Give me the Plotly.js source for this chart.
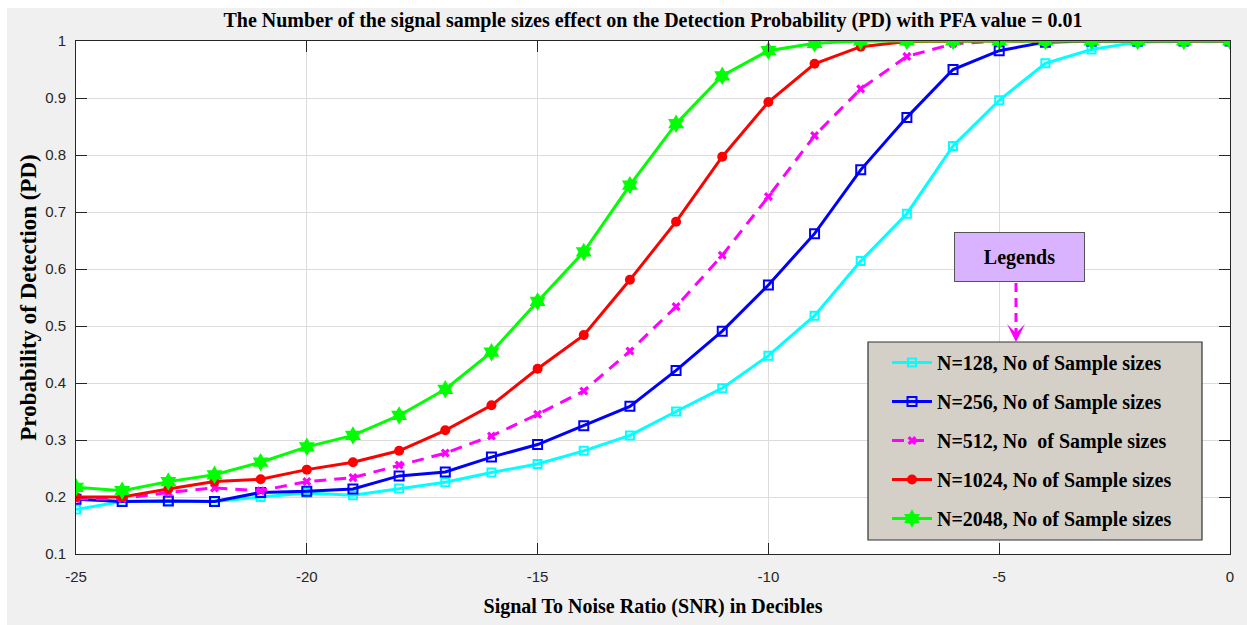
<!DOCTYPE html>
<html>
<head>
<meta charset="utf-8">
<script src="https://cdn.plot.ly/plotly-3.0.1.min.js"></script>
<style>
  html, body { margin: 0; padding: 0; background: #ffffff; }
  #chart { position: absolute; left: 7px; top: 8px; width: 1240px; height: 617px; }
</style>
</head>
<body>
<div id="chart"></div>
<script>
// SNR sweep in dB
const snr = [-25, -24, -23, -22, -21, -20, -19, -18, -17, -16, -15, -14, -13,
             -12, -11, -10, -9, -8, -7, -6, -5, -4, -3, -2, -1, 0];

// Detection probability for each number of samples
const pdN128 = [0.178, 0.192, 0.193, 0.192, 0.200, 0.207, 0.203, 0.215, 0.226, 0.243, 0.258, 0.281, 0.308,
                0.350, 0.391, 0.448, 0.518, 0.614, 0.697, 0.816, 0.896, 0.961, 0.985, 0.998, 1.0, 1.0];
const pdN256 = [0.196, 0.192, 0.193, 0.192, 0.208, 0.210, 0.214, 0.237, 0.244, 0.270, 0.292, 0.325, 0.359,
                0.422, 0.491, 0.572, 0.662, 0.774, 0.866, 0.950, 0.983, 0.998, 1.0, 1.0, 1.0, 1.0];
const pdN512 = [0.197, 0.197, 0.208, 0.216, 0.211, 0.227, 0.234, 0.256, 0.277, 0.307, 0.345, 0.386, 0.456,
                0.534, 0.624, 0.727, 0.834, 0.916, 0.973, 0.995, 1.0, 1.0, 1.0, 1.0, 1.0, 1.0];
const pdN1024 = [0.200, 0.200, 0.214, 0.227, 0.231, 0.248, 0.261, 0.281, 0.317, 0.361, 0.425, 0.484, 0.581,
                 0.683, 0.797, 0.893, 0.960, 0.990, 0.999, 1.0, 1.0, 1.0, 1.0, 1.0, 1.0, 1.0];
const pdN2048 = [0.217, 0.211, 0.227, 0.239, 0.261, 0.288, 0.308, 0.343, 0.389, 0.454, 0.543, 0.630, 0.747,
                 0.855, 0.939, 0.983, 0.996, 1.0, 1.0, 1.0, 1.0, 1.0, 1.0, 1.0, 1.0, 1.0];

const seriesNames = [
  'N=128, No of Sample sizes',
  'N=256, No of Sample sizes',
  'N=512, No\u00a0 of Sample sizes',
  'N=1024, No of Sample sizes',
  'N=2048, No of Sample sizes'
];

const xTicks = [-25, -20, -15, -10, -5, 0];
const yTicks = [0.1, 0.2, 0.3, 0.4, 0.5, 0.6, 0.7, 0.8, 0.9, 1];
const yTickText = ['0.1', '0.2', '0.3', '0.4', '0.5', '0.6', '0.7', '0.8', '0.9', '1'];

const serif = 'Liberation Serif, Times New Roman, serif';
const sans = 'Liberation Sans, Arial, sans-serif';

const traces = [
  { x: snr, y: pdN128, name: seriesNames[0], legendgroup: 'g1', mode: 'lines+markers',
    line: { color: '#00ffff', width: 3 },
    marker: { symbol: 'square-open', size: 8, color: '#00ffff', line: { width: 2, color: '#00ffff' } } },
  { x: snr, y: pdN256, name: seriesNames[1], legendgroup: 'g2', mode: 'lines+markers',
    line: { color: '#0000ff', width: 3 },
    marker: { symbol: 'square-open', size: 9, color: '#0000ff', line: { width: 2, color: '#0000ff' } } },
  { x: snr, y: pdN512, name: seriesNames[2], legendgroup: 'g3', mode: 'lines+markers',
    line: { color: '#ff00ff', width: 3, dash: '12px,8px' },
    marker: { symbol: 'x', size: 8, color: '#ff00ff' } },
  { x: snr, y: pdN1024, name: seriesNames[3], legendgroup: 'g4', mode: 'lines+markers',
    line: { color: '#ff0000', width: 3 },
    marker: { symbol: 'circle', size: 10, color: '#ff0000' } },
  { x: snr, y: pdN2048, name: seriesNames[4], legendgroup: 'g5', mode: 'lines+markers',
    line: { color: '#00ff00', width: 3 },
    marker: { symbol: 'hexagram', size: 14, color: '#00ff00' } }
];

// plot area spans page x 76..1230 and y 41..554
const px = (p) => (p - 76) / 1154;
const py = (p) => (554 - p) / 513;

const layout = {
  width: 1240,
  height: 617,
  margin: { l: 69, r: 17, t: 33, b: 71 },
  paper_bgcolor: '#f0f0f0',
  plot_bgcolor: '#ffffff',
  showlegend: true,
  title: {
    text: '<b>The Number of the signal sample sizes effect on the Detection Probability (PD) with PFA value = 0.01</b>',
    font: { family: serif, size: 20, color: '#000000' },
    xref: 'paper', x: 0.5, xanchor: 'center',
    yref: 'container', y: 1 - 12 / 617, yanchor: 'middle'
  },
  xaxis: {
    range: [-25, 0],
    tickvals: xTicks,
    ticktext: xTicks.map(String),
    showgrid: true, gridcolor: '#dcdcdc', gridwidth: 1,
    zeroline: false,
    showline: true, linecolor: '#262626', linewidth: 1, mirror: 'ticks',
    ticks: 'inside', ticklen: 11, tickcolor: '#262626',
    ticklabelstandoff: 9,
    tickfont: { family: sans, size: 15, color: '#262626' },
    title: { text: '<b>Signal To Noise Ratio (SNR) in Decibles</b>', font: { family: serif, size: 20, color: '#000000' }, standoff: 14 }
  },
  yaxis: {
    range: [0.1, 1],
    tickvals: yTicks,
    ticktext: yTickText,
    showgrid: true, gridcolor: '#dcdcdc', gridwidth: 1,
    zeroline: false,
    showline: true, linecolor: '#262626', linewidth: 1, mirror: 'ticks',
    ticks: 'inside', ticklen: 11, tickcolor: '#262626',
    ticklabelstandoff: 6,
    tickfont: { family: sans, size: 15, color: '#262626' },
    title: { text: '<b>Probability of Detection (PD)</b>', font: { family: serif, size: 23, color: '#000000' }, standoff: 2 }
  },
  legend: {
    x: px(887), y: py(343), xanchor: 'left', yanchor: 'top',
    bgcolor: 'rgba(0,0,0,0)', borderwidth: 0,
    traceorder: 'grouped', tracegroupgap: 10,
    font: { family: serif, size: 20, color: '#000000', weight: 'bold' },
    itemwidth: 40
  },
  shapes: [
    // legend panel
    { type: 'rect', xref: 'paper', yref: 'paper', layer: 'above',
      x0: px(868), x1: px(1202), y0: py(540), y1: py(342),
      fillcolor: '#d4d0c8', line: { color: '#333333', width: 1.2 } },
    // dashed pointer from the label to the legend
    { type: 'line', xref: 'paper', yref: 'paper', x0: px(1016), x1: px(1016), y0: py(283), y1: py(332),
      line: { color: '#ff00ff', width: 3, dash: '9px,6px' } }
  ],
  annotations: [
    { xref: 'paper', yref: 'paper', x: px(1019.5), y: py(257), xanchor: 'center', yanchor: 'middle',
      text: '<b>Legends</b>', showarrow: false,
      font: { family: serif, size: 20, color: '#000000' },
      bgcolor: '#d9b3ff', bordercolor: '#555555', borderwidth: 1,
      width: 127, height: 46 },
    { xref: 'paper', yref: 'paper', x: px(1016), y: py(342), text: '', showarrow: true,
      ax: 0, ay: -14, arrowhead: 3, arrowsize: 1.2, arrowwidth: 2.5, arrowcolor: '#ff00ff' }
  ]
};

Plotly.newPlot('chart', traces, layout, { displayModeBar: false, staticPlot: true });
</script>
</body>
</html>
